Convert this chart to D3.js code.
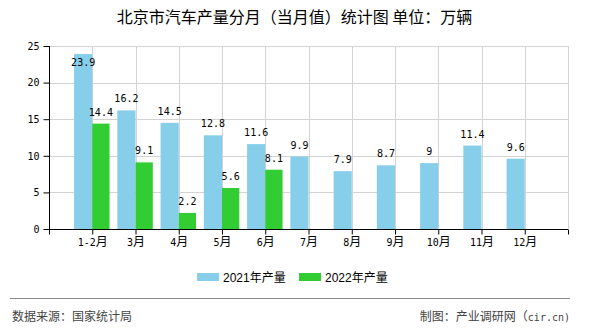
<!DOCTYPE html>
<html>
<head>
<meta charset="utf-8">
<script src="https://cdn.jsdelivr.net/npm/d3@7"></script>
<style>
html,body{margin:0;padding:0;background:#fff;}
svg{display:block;}
</style>
</head>
<body>
<svg id="chart" width="590" height="330"></svg>
<script>
const categories = ["1-2月","3月","4月","5月","6月","7月","8月","9月","10月","11月","12月"];
const values2021 = [23.9,16.2,14.5,12.8,11.6,9.9,7.9,8.7,9,11.4,9.6];
const values2022 = [14.4,9.1,2.2,5.6,8.1];
const seriesNames = ["2021年产量","2022年产量"];
const seriesColors = ["#87CEEB","#32CD32"];
const yTicks = [0,5,10,15,20,25];
const titleText = "北京市汽车产量分月（当月值）统计图 单位：万辆";
const sourceText = "数据来源：国家统计局";
const makerText = ["制图：产业调研网（", "cir.cn)"];

(function(){
const svg = d3.select("#chart");
const pL = 49, pR = 568, pT = 46, pB = 229;
const monoFont = "'DejaVu Sans Mono','Liberation Mono',monospace";
const cjkFont = "'Noto Sans CJK SC','Noto Sans',sans-serif";
const legFont = "'Liberation Sans','Noto Sans CJK SC',sans-serif";

const x = d3.scaleLinear().domain([0, categories.length + 1]).range([pL, pR]);
const y = d3.scaleLinear().domain([0, 25]).range([pB, pT]);
const slot = x(1) - x(0);
const bw1 = slot * 0.42, bw2 = slot * 0.40;

svg.append("text").attr("x", 294.5).attr("y", 23).attr("text-anchor","middle")
  .attr("font-family", cjkFont).attr("font-size", 16).attr("fill","#000").text(titleText);

const g = svg.append("g");
g.selectAll(".hg").data(yTicks.slice(1)).join("line")
  .attr("x1", pL).attr("x2", pR).attr("y1", d=>Math.round(y(d))+0.5).attr("y2", d=>Math.round(y(d))+0.5)
  .attr("stroke","#d3d3d3").attr("stroke-width",1);
const vIdx = d3.range(1, categories.length + 2);
g.selectAll(".vg").data(vIdx).join("line")
  .attr("x1", d=>Math.round(x(d))+0.5).attr("x2", d=>Math.round(x(d))+0.5).attr("y1", pT).attr("y2", pB)
  .attr("stroke","#d3d3d3").attr("stroke-width",1);

const b1 = values2021.map((v,i)=>({v,i}));
const b2 = values2022.map((v,i)=>({v,i}));
g.selectAll(".b1").data(b1).join("rect")
  .attr("x", d=>x(d.i+1)-bw1).attr("width", bw1)
  .attr("y", d=>y(d.v)).attr("height", d=>y(0)-y(d.v)).attr("fill", seriesColors[0]);
g.selectAll(".b2").data(b2).join("rect")
  .attr("x", d=>x(d.i+1)).attr("width", bw2)
  .attr("y", d=>y(d.v)).attr("height", d=>y(0)-y(d.v)).attr("fill", seriesColors[1]);

function labelY(v){ const t = y(v); return (t - 8 - 9 < pT) ? t + 12 : t - 8; }
g.selectAll(".l1").data(b1).join("text")
  .attr("x", d=>x(d.i+1)-bw1/2).attr("y", d=>labelY(d.v)).attr("text-anchor","middle")
  .attr("font-family", monoFont).attr("font-size", 10).attr("fill","#000").text(d=>d.v);
g.selectAll(".l2").data(b2).join("text")
  .attr("x", d=>x(d.i+1)+bw2/2).attr("y", d=>labelY(d.v)).attr("text-anchor","middle")
  .attr("font-family", monoFont).attr("font-size", 10).attr("fill","#000").text(d=>d.v);

const yAxis = d3.axisLeft(y).tickValues(yTicks).tickSize(6).tickPadding(4).tickFormat(d3.format("d"));
const ya = svg.append("g").attr("transform", `translate(${pL+0.5},0)`).call(yAxis);
ya.select(".domain").attr("stroke","#000").attr("d", `M0,${pT}V${pB}`);
ya.selectAll(".tick line").attr("stroke","#000");
ya.selectAll("text").attr("font-family", monoFont).attr("font-size", 10).attr("fill","#000");

const xAxis = d3.axisBottom(x).tickValues(d3.range(0, categories.length + 2)).tickSize(5).tickPadding(4)
  .tickFormat(d => (d>=1 && d<=categories.length) ? categories[d-1] : "");
const xa = svg.append("g").attr("transform", `translate(0,${pB+0.5})`).call(xAxis);
xa.select(".domain").attr("stroke","#000").attr("d", `M${pL},0H${pR}`);
xa.selectAll(".tick line").attr("stroke","#000");
xa.selectAll("text").attr("fill","#000").each(function(){
  const t = d3.select(this); const s = t.text(); if(!s) return;
  t.text("");
  t.append("tspan").attr("font-family", monoFont).attr("font-size", 10).text(s.slice(0,-1));
  t.append("tspan").attr("font-family", cjkFont).attr("font-size", 12).text(s.slice(-1));
});

const legend = svg.append("g");
const lx = [197, 299];
seriesNames.forEach((n,i)=>{
  legend.append("rect").attr("x", lx[i]).attr("y", 273).attr("width", 22).attr("height", 8).attr("fill", seriesColors[i]);
  legend.append("text").attr("x", lx[i]+26).attr("y", 282).attr("font-family", legFont).attr("font-size", 12)
    .attr("fill","#000").text(n);
});

svg.append("line").attr("x1",10).attr("x2",570).attr("y1",298.5).attr("y2",298.5).attr("stroke","#888").attr("stroke-width",1);
svg.append("text").attr("x",12).attr("y",321).attr("font-family", cjkFont).attr("font-size",12).attr("fill","#444").text(sourceText);
const mk = svg.append("text").attr("x",570).attr("y",321).attr("text-anchor","end").attr("fill","#444");
mk.append("tspan").attr("font-family", cjkFont).attr("font-size",12).text(makerText[0]);
mk.append("tspan").attr("font-family", monoFont).attr("font-size",10).text(makerText[1]);
})();
</script>
</body>
</html>
